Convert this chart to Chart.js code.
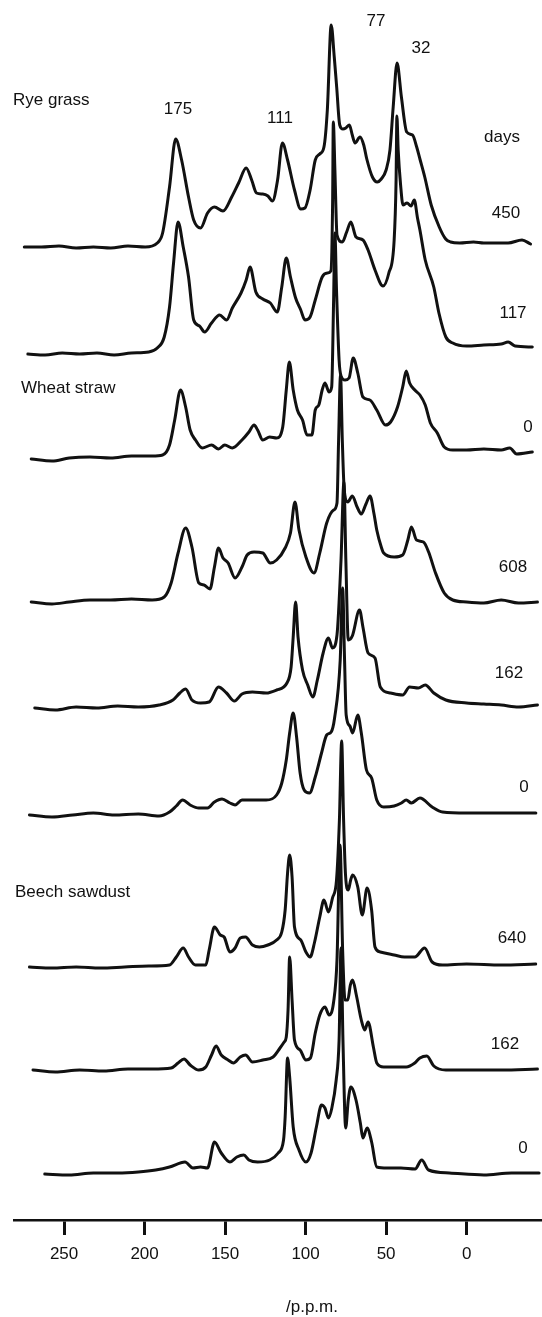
<!DOCTYPE html>
<html>
<head>
<meta charset="utf-8">
<script src="https://cdn.jsdelivr.net/npm/chart.js@4.4.0/dist/chart.umd.min.js"></script>
<style>
  html, body { margin: 0; padding: 0; background: #fff; }
  #wrap { width: 542px; height: 1317px; }
</style>
</head>
<body>
<div id="wrap"><canvas id="spectra" width="542" height="1317"></canvas></div>
<script>
// chemical shift ticks (p.p.m.)
const xTicks = [250, 200, 150, 100, 50, 0];

// rye grass, 450 days
const rye450Ppm = [274.7, 264.0, 253.2, 242.5, 231.8, 221.0, 210.3, 199.6, 192.1, 188.8, 184.5, 180.7, 177.0, 172.7, 169.5, 165.2, 160.9, 156.6, 151.3, 145.9, 141.6, 136.9, 133.5, 130.5, 126.6, 123.4, 120.6, 117.4, 114.4, 111.2, 106.9, 103.0, 100.4, 97.2, 94.0, 91.2, 88.6, 86.5, 84.1, 82.2, 80.7, 78.8, 76.8, 75.0, 72.8, 71.0, 69.3, 66.2, 63.9, 62.0, 58.5, 55.5, 53.0, 50.0, 47.6, 45.6, 43.2, 40.5, 37.2, 33.6, 31.0, 29.0, 26.0, 22.0, 17.0, 13.0, 10.0, 4.3, -4.3, -10.7, -19.3, -25.8, -34.4, -39.7];
const rye450Int = [0, 0, 1, -1, 0, -1, 1, 0, 4, 14, 60, 108, 87, 50, 27, 19, 34, 40, 36, 50, 64, 79, 67, 54, 53, 51, 46, 67, 104, 87, 57, 38, 39, 57, 87, 93, 100, 137, 222, 190, 160, 122, 118, 119, 122, 112, 104, 110, 102, 88, 70, 65, 68, 77, 97, 140, 184, 150, 115, 112, 100, 88, 70, 42, 20, 8, 5, 4, 5, 4, 4, 4, 7, 3];

// rye grass, 117 days
const rye117Ppm = [272.5, 261.8, 251.1, 240.3, 229.6, 218.9, 208.2, 197.4, 192.1, 187.8, 184.5, 182.0, 179.2, 176.0, 172.7, 169.5, 165.9, 162.7, 158.4, 153.4, 149.1, 145.5, 140.1, 136.9, 134.5, 130.9, 126.6, 121.9, 117.6, 114.8, 112.0, 109.4, 106.2, 103.0, 100.4, 97.2, 94.0, 89.7, 86.5, 84.3, 83.2, 82.8, 81.8, 80.5, 77.2, 74.5, 71.9, 68.7, 64.4, 61.2, 56.9, 51.9, 48.3, 45.0, 43.8, 43.3, 42.5, 41.0, 39.5, 37.0, 34.5, 32.5, 30.5, 29.0, 25.7, 20.4, 17.2, 12.9, 8.6, 0, -10.7, -21.5, -25.8, -30.1, -40.8];
const rye117Int = [0, -1, 1, 0, 1, -1, 1, 2, 6, 17, 47, 91, 132, 107, 77, 34, 28, 22, 31, 39, 34, 46, 61, 74, 87, 62, 55, 51, 42, 67, 96, 77, 56, 44, 34, 37, 54, 77, 81, 83, 154, 232, 184, 119, 112, 122, 132, 117, 114, 104, 84, 68, 81, 114, 174, 238, 204, 169, 149, 151, 148, 154, 136, 124, 94, 67, 41, 17, 11, 8, 9, 10, 12, 8, 7];

// wheat straw, 0 days
const wheat0Ppm = [270.4, 257.5, 246.8, 233.9, 221.0, 208.1, 195.3, 188.8, 184.5, 181.3, 177.7, 174.5, 171.7, 168.4, 164.2, 158.4, 154.1, 150.2, 145.5, 139.5, 135.2, 132.0, 129.8, 126.6, 122.3, 118.0, 114.2, 112.0, 110.1, 107.7, 105.1, 101.9, 99.1, 96.1, 94.0, 91.8, 89.7, 88.0, 85.4, 83.8, 82.6, 81.8, 80.8, 79.2, 78.0, 75.5, 73.0, 70.4, 67.6, 64.4, 60.1, 55.8, 50.4, 47.2, 42.9, 39.7, 37.5, 35.4, 32.2, 29.0, 25.7, 22.5, 18.2, 13.9, 8.6, 0, -10.7, -21.5, -26.8, -31.1, -40.8];
const wheat0Int = [-1, -3, 0, 1, 0, 2, 2, 3, 13, 38, 68, 51, 28, 18, 10, 13, 9, 13, 10, 18, 26, 33, 28, 18, 21, 20, 31, 68, 96, 68, 48, 38, 23, 23, 48, 53, 68, 75, 66, 71, 158, 225, 168, 98, 82, 78, 80, 100, 85, 61, 58, 48, 33, 36, 51, 71, 87, 75, 68, 63, 53, 35, 25, 11, 8, 8, 9, 8, 10, 4, 6];

// wheat straw, 608 days
const wheat608Ppm = [270.4, 257.5, 246.8, 233.9, 221.0, 208.1, 195.3, 187.8, 183.5, 179.2, 174.5, 170.6, 166.3, 163.1, 159.4, 156.6, 154.1, 151.3, 148.1, 143.8, 139.5, 136.3, 132.0, 126.6, 121.9, 118.0, 112.7, 109.4, 106.6, 104.1, 99.8, 94.8, 91.2, 86.9, 82.6, 80.5, 79.5, 78.3, 77.2, 76.0, 73.8, 71.0, 68.0, 65.5, 62.5, 60.0, 57.5, 55.8, 53.0, 51.5, 45.0, 39.7, 36.5, 34.3, 31.1, 26.8, 23.6, 19.3, 13.9, 8.6, 0, -10.7, -21.5, -32.2, -44.0];
const wheat608Int = [0, -2, 0, 2, 2, 3, 2, 5, 19, 49, 74, 55, 19, 17, 13, 35, 54, 44, 39, 24, 35, 47, 50, 49, 39, 42, 54, 69, 100, 72, 45, 29, 49, 79, 92, 99, 162, 227, 162, 112, 100, 106, 95, 88, 98, 106, 88, 72, 55, 49, 45, 47, 62, 75, 62, 60, 50, 29, 9, 2, 0, -1, 2, -1, 0];

// wheat straw, 162 days
const wheat162Ppm = [268.2, 255.4, 242.5, 229.6, 216.7, 203.9, 191.0, 182.4, 178.1, 174.5, 170.6, 165.2, 159.9, 154.1, 149.1, 144.2, 139.5, 133.0, 124.5, 118.0, 111.6, 109.0, 107.7, 106.2, 104.7, 101.9, 98.7, 95.5, 92.7, 89.1, 85.8, 83.3, 80.5, 78.0, 76.2, 75.0, 73.5, 71.0, 66.5, 64.4, 61.2, 56.9, 53.6, 47.2, 39.7, 35.4, 30.0, 25.7, 20.4, 12.9, 0, -10.7, -21.5, -32.2, -44.0];
const wheat162Int = [0, -2, 1, 0, 2, 1, 3, 8, 15, 19, 8, 5, 6, 21, 15, 7, 14, 16, 15, 18, 25, 41, 71, 106, 71, 38, 23, 11, 28, 55, 70, 60, 73, 148, 226, 148, 68, 72, 98, 81, 55, 50, 21, 15, 13, 21, 20, 23, 15, 8, 5, 4, 3, 1, 3];

// wheat straw, 0 days (second sample)
const wheat0bPpm = [271.5, 257.5, 244.6, 231.8, 218.9, 203.9, 191.0, 184.5, 180.3, 176.4, 171.7, 166.3, 160.9, 156.6, 151.9, 147.0, 143.8, 139.5, 133.0, 124.5, 118.0, 114.8, 112.0, 109.9, 107.7, 105.6, 103.4, 100.9, 97.6, 94.0, 90.1, 86.9, 84.1, 82.0, 78.5, 77.0, 75.8, 74.8, 72.5, 70.8, 67.6, 65.4, 62.2, 59.0, 55.8, 51.5, 45.0, 40.5, 37.5, 34.3, 29.0, 21.4, 15.0, 0, -21.5, -43.0];
const wheat0bInt = [0, -2, 0, 2, 0, 1, -1, 3, 9, 15, 10, 7, 7, 13, 16, 12, 10, 15, 15, 15, 20, 32, 55, 82, 102, 78, 42, 25, 22, 38, 62, 80, 83, 97, 155, 227, 155, 100, 89, 82, 100, 82, 45, 37, 15, 8, 9, 12, 15, 12, 17, 8, 3, 2, 2, 2];

// beech sawdust, 640 days
const beech640Ppm = [271.5, 257.5, 242.5, 227.5, 212.4, 197.4, 184.5, 180.3, 176.0, 172.7, 168.4, 162.0, 159.9, 156.6, 153.0, 150.6, 147.0, 143.8, 140.6, 137.3, 133.0, 128.7, 123.4, 118.0, 114.8, 112.7, 111.2, 109.9, 108.4, 106.9, 103.0, 99.8, 97.2, 94.4, 91.2, 88.6, 85.8, 83.3, 80.8, 79.0, 77.6, 76.4, 75.2, 73.5, 72.0, 70.8, 67.6, 64.8, 61.8, 59.0, 56.9, 53.6, 45.0, 38.6, 32.2, 26.1, 21.4, 15.0, 0, -21.5, -42.9];
const beech640Int = [0, -1, 0, -1, 0, 1, 2, 10, 19, 10, 2, 2, 17, 40, 32, 30, 15, 19, 29, 30, 22, 20, 22, 27, 35, 57, 94, 112, 90, 40, 27, 15, 10, 25, 50, 67, 55, 69, 87, 147, 226, 147, 92, 77, 87, 92, 80, 52, 79, 57, 20, 15, 12, 10, 10, 19, 5, 2, 3, 2, 3];

// beech sawdust, 162 days
const beech162Ppm = [269.3, 255.4, 240.3, 225.3, 210.3, 195.3, 183.5, 179.2, 175.5, 171.7, 166.3, 162.0, 158.4, 155.6, 152.4, 148.1, 144.8, 140.6, 137.3, 133.0, 126.6, 120.2, 115.9, 113.3, 112.0, 110.9, 109.9, 108.4, 106.9, 103.4, 99.8, 97.0, 94.0, 91.2, 88.0, 85.4, 82.6, 80.5, 78.6, 77.0, 75.5, 73.8, 72.2, 70.8, 68.5, 65.4, 63.3, 61.2, 57.9, 55.8, 51.5, 42.9, 37.5, 32.2, 29.0, 24.7, 20.4, 12.9, 0, -21.5, -44.0];
const beech162Int = [0, -2, 0, -1, 1, 1, 2, 7, 11, 5, 0, 3, 15, 24, 15, 10, 7, 13, 15, 8, 10, 13, 22, 28, 33, 60, 113, 70, 30, 20, 10, 12, 37, 55, 63, 55, 68, 110, 225, 120, 70, 70, 85, 90, 75, 50, 40, 48, 23, 7, 3, 3, 3, 7, 12, 14, 4, 0, 0, 0, 1];

// beech sawdust, 0 days
const beech0Ppm = [262.0, 246.8, 231.8, 216.7, 203.9, 193.1, 184.5, 174.9, 170.0, 165.2, 160.9, 156.6, 152.4, 147.0, 142.7, 138.4, 135.2, 129.8, 122.3, 117.0, 113.7, 112.7, 111.2, 109.9, 107.7, 104.1, 99.8, 96.6, 93.3, 90.1, 88.0, 85.8, 83.7, 81.0, 79.2, 78.0, 76.8, 75.1, 73.5, 71.9, 68.7, 66.0, 64.4, 61.8, 59.0, 55.8, 49.3, 40.8, 32.0, 27.9, 23.6, 10.7, -10.7, -27.9, -45.0];
const beech0Int = [-1, -2, 0, 0, 1, 3, 6, 11, 5, 6, 5, 31, 20, 11, 16, 18, 13, 11, 13, 20, 33, 56, 115, 96, 46, 23, 11, 20, 46, 68, 65, 55, 65, 93, 133, 225, 133, 45, 73, 86, 73, 50, 35, 45, 31, 6, 5, 5, 4, 13, 3, 0, -2, 0, 0];

// vertical stacking of the traces, top to bottom
const spectrumOffsets = [973, 866, 762, 618, 512, 405, 253, 150, 47];
const spectrumPpm = [rye450Ppm, rye117Ppm, wheat0Ppm, wheat608Ppm, wheat162Ppm, wheat0bPpm, beech640Ppm, beech162Ppm, beech0Ppm];
const spectrumInt = [rye450Int, rye117Int, wheat0Int, wheat608Int, wheat162Int, wheat0bInt, beech640Int, beech162Int, beech0Int];

const FONT = '"Liberation Sans", Arial, Helvetica, sans-serif';
const INK = "#111";

// text drawn on top of the plot (pixel positions)
const annotations = [
  { text: "Rye grass", x: 13, y: 100, align: "left" },
  { text: "175", x: 178, y: 109 },
  { text: "111", x: 280, y: 118 },
  { text: "77", x: 376, y: 21 },
  { text: "32", x: 421, y: 48 },
  { text: "days", x: 502, y: 137 },
  { text: "450", x: 506, y: 213 },
  { text: "117", x: 513, y: 313 },
  { text: "Wheat straw", x: 21, y: 388, align: "left" },
  { text: "0", x: 528, y: 427 },
  { text: "608", x: 513, y: 567 },
  { text: "162", x: 509, y: 673 },
  { text: "0", x: 524, y: 787 },
  { text: "Beech sawdust", x: 15, y: 892, align: "left" },
  { text: "640", x: 512, y: 938 },
  { text: "162", x: 505, y: 1044 },
  { text: "0", x: 523, y: 1148 },
  { text: "/p.p.m.", x: 312, y: 1307 }
];

const labelPlugin = {
  id: "labels",
  afterDraw(chart) {
    const ctx = chart.ctx;
    ctx.save();
    ctx.fillStyle = INK;
    ctx.font = "17px " + FONT;
    ctx.textBaseline = "middle";
    for (const a of annotations) {
      ctx.textAlign = a.align || "center";
      ctx.fillText(a.text, a.x, a.y);
    }
    ctx.restore();
  }
};

const datasets = spectrumPpm.map((ppm, i) => ({
  data: ppm.map((p, j) => ({ x: p, y: spectrumOffsets[i] + spectrumInt[i][j] })),
  borderColor: INK,
  borderWidth: 3,
  pointRadius: 0,
  fill: false,
  cubicInterpolationMode: "monotone",
  borderJoinStyle: "round",
  borderCapStyle: "round"
}));

new Chart(document.getElementById("spectra"), {
  type: "line",
  data: { datasets },
  plugins: [labelPlugin],
  options: {
    responsive: false,
    animation: false,
    devicePixelRatio: 1,
    layout: { padding: { left: 14, right: 1, top: 0, bottom: 0 } },
    plugins: { legend: { display: false }, tooltip: { enabled: false } },
    scales: {
      x: {
        type: "linear",
        reverse: true,
        min: -46.2,
        max: 281.1,
        afterBuildTicks: (s) => { s.ticks = xTicks.map((v) => ({ value: v })); },
        afterFit: (s) => { s.height = 97; },
        grid: { drawOnChartArea: false, drawTicks: true, tickLength: 15, tickWidth: 3, tickColor: INK, lineWidth: 3, color: INK },
        border: { display: true, color: INK, width: 2.5 },
        ticks: { color: INK, font: { family: FONT, size: 17 }, padding: 9, maxRotation: 0, autoSkip: false }
      },
      y: { display: false, min: 0, max: 1220 }
    }
  }
});
</script>
</body>
</html>
